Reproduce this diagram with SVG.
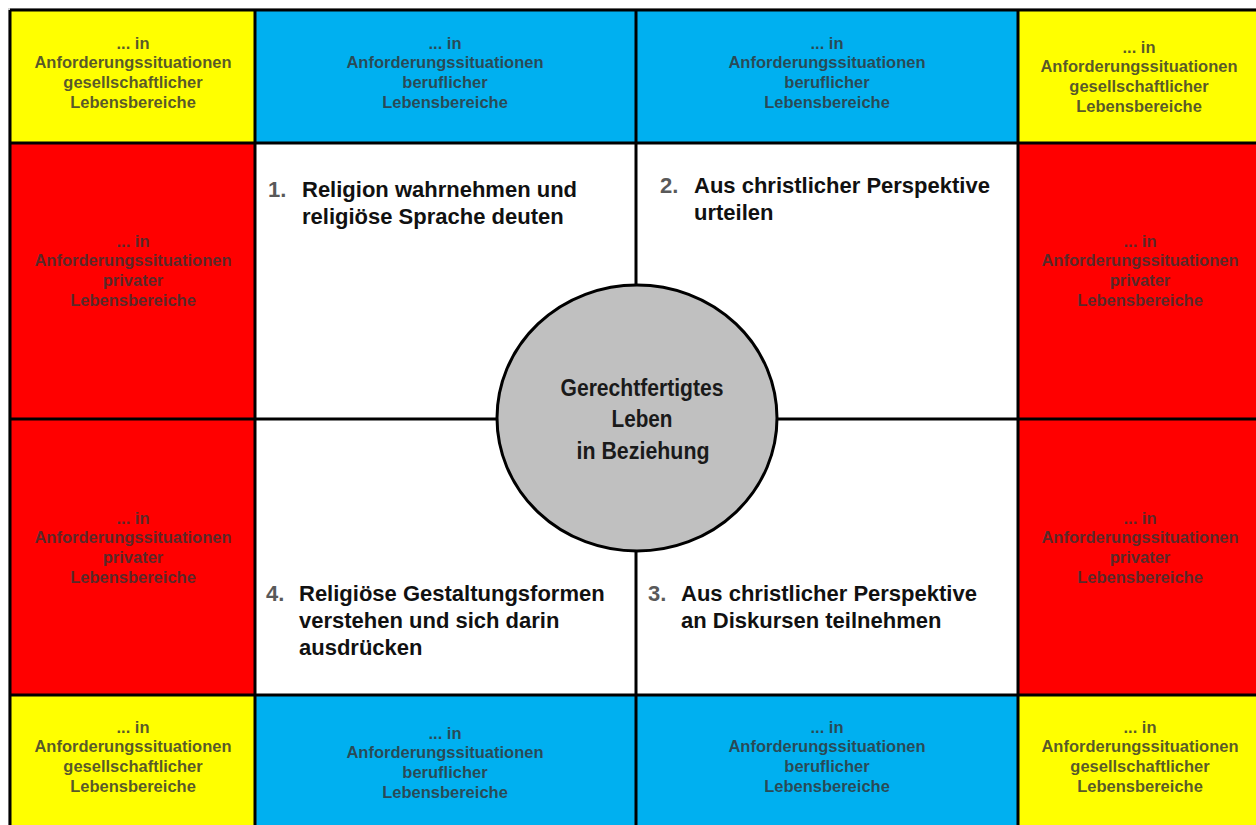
<svg xmlns="http://www.w3.org/2000/svg" width="1256" height="825" viewBox="0 0 1256 825">
<style>
.yel{fill:#FFFF00}
.blu{fill:#00B0F0}
.red{fill:#FF0000}
.wht{fill:#FFFFFF}
.ct{font-family:"Liberation Sans",Arial,sans-serif;font-weight:bold;font-size:16.5px;fill:#333333;fill-opacity:0.82;text-anchor:middle}
.pt{font-family:"Liberation Sans",Arial,sans-serif;font-weight:bold;font-size:22px;fill:#111111}
.num{fill:#595959}
.grid{stroke:#000;stroke-width:3;fill:none}
.circ{fill:#C0C0C0;stroke:#000;stroke-width:3}
.cc{font-family:"Liberation Sans",Arial,sans-serif;font-weight:bold;font-size:24.5px;fill:#1a1a1a;text-anchor:middle}
</style>
<rect x="0" y="0" width="1256" height="825" fill="#FFFFFF"/>
<rect x="8" y="8" width="1260" height="830" fill="#d0d0d0"/>

<g id="cell-top-left">
<rect class="yel" x="10" y="10" width="245" height="133"/>
<text class="ct" x="133" y="49">... in</text>
<text class="ct" x="133" y="68">Anforderungssituationen</text>
<text class="ct" x="133" y="88">gesellschaftlicher</text>
<text class="ct" x="133" y="108">Lebensbereiche</text>
</g>
<g id="cell-top-2">
<rect class="blu" x="255" y="10" width="381" height="133"/>
<text class="ct" x="445" y="49">... in</text>
<text class="ct" x="445" y="68">Anforderungssituationen</text>
<text class="ct" x="445" y="88">beruflicher</text>
<text class="ct" x="445" y="108">Lebensbereiche</text>
</g>
<g id="cell-top-3">
<rect class="blu" x="636" y="10" width="382" height="133"/>
<text class="ct" x="827" y="49">... in</text>
<text class="ct" x="827" y="68">Anforderungssituationen</text>
<text class="ct" x="827" y="88">beruflicher</text>
<text class="ct" x="827" y="108">Lebensbereiche</text>
</g>
<g id="cell-top-right">
<rect class="yel" x="1018" y="10" width="250" height="133"/>
<text class="ct" x="1139" y="53">... in</text>
<text class="ct" x="1139" y="72">Anforderungssituationen</text>
<text class="ct" x="1139" y="92">gesellschaftlicher</text>
<text class="ct" x="1139" y="112">Lebensbereiche</text>
</g>

<g id="cell-left-upper">
<rect class="red" x="10" y="143" width="245" height="276"/>
<text class="ct" x="133" y="247">... in</text>
<text class="ct" x="133" y="266">Anforderungssituationen</text>
<text class="ct" x="133" y="286">privater</text>
<text class="ct" x="133" y="306">Lebensbereiche</text>
</g>
<g id="cell-left-lower">
<rect class="red" x="10" y="419" width="245" height="276"/>
<text class="ct" x="133" y="524">... in</text>
<text class="ct" x="133" y="543">Anforderungssituationen</text>
<text class="ct" x="133" y="563">privater</text>
<text class="ct" x="133" y="583">Lebensbereiche</text>
</g>
<g id="cell-right-upper">
<rect class="red" x="1018" y="143" width="250" height="276"/>
<text class="ct" x="1140" y="247">... in</text>
<text class="ct" x="1140" y="266">Anforderungssituationen</text>
<text class="ct" x="1140" y="286">privater</text>
<text class="ct" x="1140" y="306">Lebensbereiche</text>
</g>
<g id="cell-right-lower">
<rect class="red" x="1018" y="419" width="250" height="276"/>
<text class="ct" x="1140" y="524">... in</text>
<text class="ct" x="1140" y="543">Anforderungssituationen</text>
<text class="ct" x="1140" y="563">privater</text>
<text class="ct" x="1140" y="583">Lebensbereiche</text>
</g>

<g id="cell-bottom-left">
<rect class="yel" x="10" y="695" width="245" height="140"/>
<text class="ct" x="133" y="733">... in</text>
<text class="ct" x="133" y="752">Anforderungssituationen</text>
<text class="ct" x="133" y="772">gesellschaftlicher</text>
<text class="ct" x="133" y="792">Lebensbereiche</text>
</g>
<g id="cell-bottom-2">
<rect class="blu" x="255" y="695" width="381" height="140"/>
<text class="ct" x="445" y="739">... in</text>
<text class="ct" x="445" y="758">Anforderungssituationen</text>
<text class="ct" x="445" y="778">beruflicher</text>
<text class="ct" x="445" y="798">Lebensbereiche</text>
</g>
<g id="cell-bottom-3">
<rect class="blu" x="636" y="695" width="382" height="140"/>
<text class="ct" x="827" y="733">... in</text>
<text class="ct" x="827" y="752">Anforderungssituationen</text>
<text class="ct" x="827" y="772">beruflicher</text>
<text class="ct" x="827" y="792">Lebensbereiche</text>
</g>
<g id="cell-bottom-right">
<rect class="yel" x="1018" y="695" width="250" height="140"/>
<text class="ct" x="1140" y="733">... in</text>
<text class="ct" x="1140" y="752">Anforderungssituationen</text>
<text class="ct" x="1140" y="772">gesellschaftlicher</text>
<text class="ct" x="1140" y="792">Lebensbereiche</text>
</g>

<g id="quadrant-1">
<rect class="wht" x="255" y="143" width="381" height="276"/>
<text class="pt num" x="268" y="197">1.</text>
<text class="pt" x="302" y="197">Religion wahrnehmen und</text>
<text class="pt" x="302" y="224">religiöse Sprache deuten</text>
</g>
<g id="quadrant-2">
<rect class="wht" x="636" y="143" width="382" height="276"/>
<text class="pt num" x="660" y="193">2.</text>
<text class="pt" x="694" y="193">Aus christlicher Perspektive</text>
<text class="pt" x="694" y="220">urteilen</text>
</g>
<g id="quadrant-3">
<rect class="wht" x="636" y="419" width="382" height="276"/>
<text class="pt num" x="648" y="601">3.</text>
<text class="pt" x="681" y="601">Aus christlicher Perspektive</text>
<text class="pt" x="681" y="628">an Diskursen teilnehmen</text>
</g>
<g id="quadrant-4">
<rect class="wht" x="255" y="419" width="381" height="276"/>
<text class="pt num" x="266" y="601">4.</text>
<text class="pt" x="299" y="601">Religiöse Gestaltungsformen</text>
<text class="pt" x="299" y="628">verstehen und sich darin</text>
<text class="pt" x="299" y="655">ausdrücken</text>
</g>

<g id="connectors">
<path class="grid" d="M10,10 H1270 M10,143 H1270 M10,419 H1270 M10,695 H1270 M10,10 V840 M255,10 V840 M636,10 V840 M1018,10 V840"/>
</g>

<g id="center">
<ellipse class="circ" cx="637" cy="418" rx="140" ry="133"/>
<text class="cc" x="642" y="396" textLength="163" lengthAdjust="spacingAndGlyphs">Gerechtfertigtes</text>
<text class="cc" x="642" y="427" textLength="61" lengthAdjust="spacingAndGlyphs">Leben</text>
<text class="cc" x="643" y="459" textLength="133" lengthAdjust="spacingAndGlyphs">in Beziehung</text>
</g>
</svg>
